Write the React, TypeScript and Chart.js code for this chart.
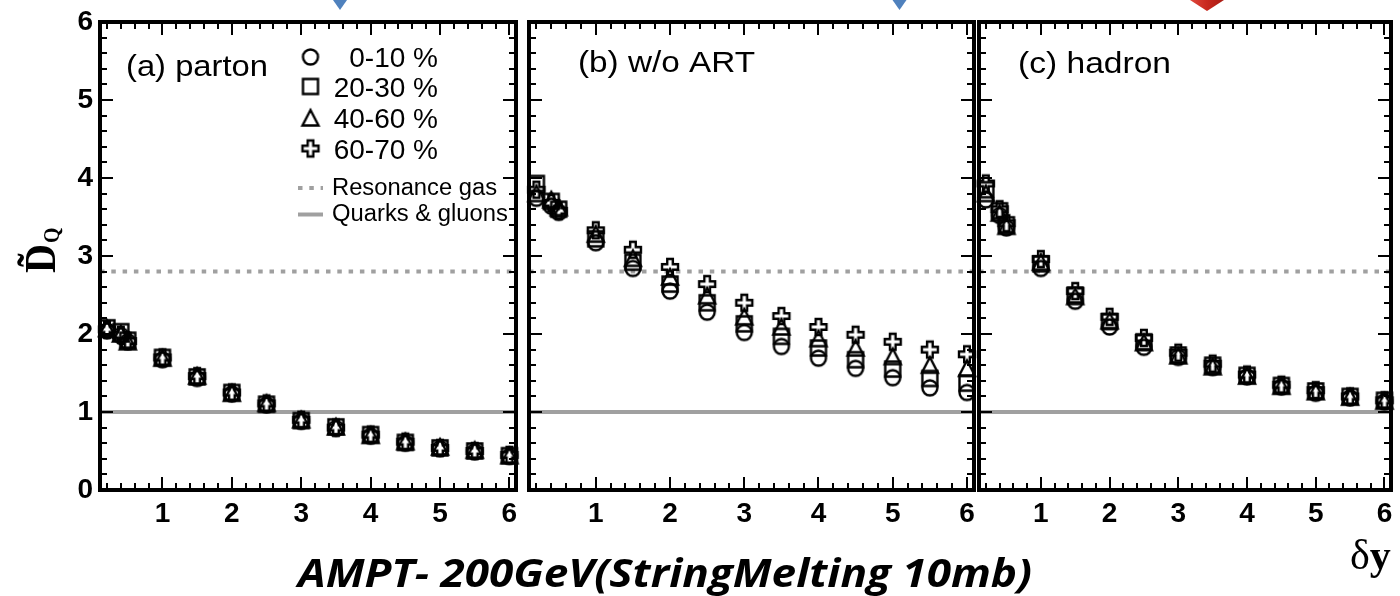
import React, { useEffect, useRef } from "react";
import { Chart, registerables } from "chart.js";

Chart.register(...registerables);

// ---------------- data ----------------
const DELTA_Y = [0.2, 0.4, 0.5, 1, 1.5, 2, 2.5, 3, 3.5, 4, 4.5, 5, 5.5, 6];
const CENTRALITY_LABELS = ["0-10 %", "20-30 %", "40-60 %", "60-70 %"];
const PANEL_LABELS = ["(a) parton", "(b) w/o ART", "(c) hadron"];

// (a) parton
const PARTON_0_10 = [2.04, 1.98, 1.9, 1.67, 1.43, 1.23, 1.09, 0.88, 0.79, 0.69, 0.6, 0.53, 0.49, 0.43];
const PARTON_20_30 = [2.08, 2.03, 1.92, 1.7, 1.45, 1.25, 1.1, 0.89, 0.81, 0.71, 0.61, 0.54, 0.5, 0.44];
const PARTON_40_60 = [2.07, 2.0, 1.9, 1.69, 1.46, 1.24, 1.11, 0.9, 0.81, 0.7, 0.62, 0.55, 0.51, 0.44];
const PARTON_60_70 = [2.06, 1.99, 1.91, 1.7, 1.46, 1.25, 1.11, 0.9, 0.8, 0.71, 0.62, 0.54, 0.5, 0.45];

// (b) w/o ART
const NOART_0_10 = [3.74, 3.64, 3.56, 3.17, 2.84, 2.55, 2.28, 2.02, 1.84, 1.69, 1.56, 1.44, 1.31, 1.25];
const NOART_20_30 = [3.93, 3.7, 3.6, 3.22, 2.92, 2.64, 2.4, 2.13, 1.97, 1.82, 1.67, 1.55, 1.43, 1.37];
const NOART_40_60 = [3.8, 3.72, 3.62, 3.28, 2.97, 2.73, 2.49, 2.22, 2.09, 1.94, 1.82, 1.71, 1.6, 1.56];
const NOART_60_70 = [3.85, 3.68, 3.58, 3.33, 3.08, 2.86, 2.64, 2.4, 2.23, 2.09, 1.99, 1.9, 1.8, 1.74];

// (c) hadron
const HADRON_0_10 = [3.72, 3.52, 3.36, 2.84, 2.42, 2.09, 1.83, 1.7, 1.57, 1.45, 1.32, 1.24, 1.18, 1.13];
const HADRON_20_30 = [3.85, 3.58, 3.4, 2.9, 2.5, 2.16, 1.9, 1.73, 1.6, 1.47, 1.34, 1.27, 1.2, 1.15];
const HADRON_40_60 = [3.8, 3.55, 3.38, 2.92, 2.48, 2.17, 1.89, 1.72, 1.58, 1.46, 1.33, 1.26, 1.19, 1.14];
const HADRON_60_70 = [3.93, 3.6, 3.42, 2.96, 2.55, 2.22, 1.95, 1.76, 1.62, 1.48, 1.35, 1.28, 1.2, 1.15];

const RESONANCE_GAS = 2.8;
const QUARKS_GLUONS = 1;
const LINE_LABELS = ["Resonance gas", "Quarks & gluons"];

const X_TICK_LABELS = [1, 2, 3, 4, 5, 6];
const Y_TICK_LABELS = [0, 1, 2, 3, 4, 5, 6];
const X_RANGE = [0.1, 6.095];
const Y_RANGE = [0, 6];

const TITLE = "AMPT- 200GeV(StringMelting 10mb)";
const Y_TITLE_MAIN = "D\u0303";
const Y_TITLE_SUB = "Q";
const X_TITLE_A = "\u03b4";
const X_TITLE_B = "y";

// ---------------- styling helpers ----------------
const GREY = "#a0a0a0";
const SANS = '"Liberation Sans", Arial, sans-serif';
const SERIF = '"Liberation Serif", "DejaVu Serif", serif';

type MarkerKind = "circle" | "square" | "triangle" | "cross";
const MARKER_KINDS: MarkerKind[] = ["circle", "square", "triangle", "cross"];

function makeMarker(kind: MarkerKind): HTMLCanvasElement {
  const size = 22;
  const c = document.createElement("canvas");
  c.width = size;
  c.height = size;
  const g = c.getContext("2d")!;
  g.strokeStyle = "#000";
  g.lineWidth = 2.4;
  g.lineJoin = "miter";
  const m = size / 2;
  const r = 7.5;
  g.beginPath();
  if (kind === "circle") {
    g.arc(m, m, r, 0, Math.PI * 2);
  } else if (kind === "square") {
    g.rect(m - r, m - r, 2 * r, 2 * r);
  } else if (kind === "triangle") {
    g.moveTo(m, m - r - 0.5);
    g.lineTo(m + r + 0.5, m + r);
    g.lineTo(m - r - 0.5, m + r);
    g.closePath();
  } else {
    const a = r + 0.5;
    const b = 2.8;
    const pts = [
      [m - b, m - a], [m + b, m - a], [m + b, m - b], [m + a, m - b],
      [m + a, m + b], [m + b, m + b], [m + b, m + a], [m - b, m + a],
      [m - b, m + b], [m - a, m + b], [m - a, m - b], [m - b, m - b],
    ];
    g.moveTo(pts[0][0], pts[0][1]);
    for (let i = 1; i < pts.length; i++) g.lineTo(pts[i][0], pts[i][1]);
    g.closePath();
  }
  g.stroke();
  return c;
}

function fitText(
  ctx: CanvasRenderingContext2D,
  text: string,
  x: number,
  y: number,
  font: string,
  width?: number,
  align: CanvasTextAlign = "left"
) {
  ctx.save();
  ctx.font = font;
  const w = ctx.measureText(text).width;
  const sx = width ? width / w : 1;
  ctx.translate(x, y);
  ctx.scale(sx, 1);
  ctx.textAlign = align;
  ctx.textBaseline = "alphabetic";
  ctx.fillStyle = "#000";
  ctx.fillText(text, 0, 0);
  ctx.restore();
}

interface PanelGeom {
  width: number;
  height: number;
  padLeft: number;
  padRight: number;
  showY: boolean;
  showLegend: boolean;
  label: string;
  labelDx: number;
  labelBaseline: number;
  labelWidth: number;
}

function makeDecorPlugin(geom: PanelGeom) {
  return {
    id: "panelDecor",
    afterDatasetsDraw(chart: any) {
      const { ctx, chartArea } = chart;
      const { left, right, top, bottom } = chartArea;
      const xs = chart.scales.x;
      const ys = chart.scales.y;
      ctx.save();
      ctx.strokeStyle = "#000";
      ctx.lineWidth = 2;
      ctx.beginPath();
      for (let k = 1; k <= 30; k++) {
        const v = k / 5;
        if (v <= X_RANGE[0] || v >= X_RANGE[1]) continue;
        const px = Math.round(xs.getPixelForValue(v));
        const len = k % 5 === 0 ? 13 : 7;
        ctx.moveTo(px, bottom);
        ctx.lineTo(px, bottom - len);
        ctx.moveTo(px, top);
        ctx.lineTo(px, top + len);
      }
      for (let k = 1; k < 30; k++) {
        const v = k / 5;
        const py = Math.round(ys.getPixelForValue(v));
        const len = k % 5 === 0 ? 13 : 7;
        ctx.moveTo(left, py);
        ctx.lineTo(left + len, py);
        ctx.moveTo(right, py);
        ctx.lineTo(right - len, py);
      }
      ctx.stroke();
      ctx.lineWidth = 4;
      ctx.strokeRect(left, top, right - left, bottom - top);
      ctx.restore();
    },
    afterDraw(chart: any) {
      const { ctx, chartArea } = chart;
      fitText(
        ctx,
        geom.label,
        chartArea.left + geom.labelDx,
        geom.labelBaseline,
        `30px ${SANS}`,
        geom.labelWidth
      );
      if (!geom.showLegend) return;
      const ds = chart.data.datasets;
      const rows = [57, 86.5, 118, 148.5];
      for (let i = 0; i < 4; i++) {
        const img = ds[i].pointStyle as HTMLCanvasElement;
        ctx.drawImage(img, 310.5 - img.width / 2, rows[i] - img.height / 2);
        fitText(ctx, ds[i].label, 438, rows[i] + 10, `28px ${SANS}`, undefined, "right");
      }
      const lineRows = [
        { y: 188, base: 195, w: 165 },
        { y: 214.5, base: 221, w: 176 },
      ];
      for (let j = 0; j < 2; j++) {
        const d = ds[4 + j];
        ctx.save();
        ctx.strokeStyle = d.borderColor;
        ctx.lineWidth = d.borderWidth;
        ctx.setLineDash(d.borderDash || []);
        ctx.beginPath();
        ctx.moveTo(298, lineRows[j].y);
        ctx.lineTo(323, lineRows[j].y);
        ctx.stroke();
        ctx.restore();
        fitText(ctx, d.label, 332, lineRows[j].base, `23.5px ${SANS}`, lineRows[j].w);
      }
    },
  };
}

function buildPanel(canvas: HTMLCanvasElement, series: number[][], geom: PanelGeom, sprites: HTMLCanvasElement[]) {
  const markerSets = series.map((vals, i) => ({
    type: "scatter",
    label: CENTRALITY_LABELS[i],
    data: DELTA_Y.map((x, j) => ({ x, y: vals[j] })),
    pointStyle: sprites[i],
    pointRadius: 8,
    pointHoverRadius: 8,
    borderColor: "#000",
    backgroundColor: "rgba(0,0,0,0)",
    showLine: false,
    clip: false,
    order: 1,
  }));
  const lineSets = [
    { value: RESONANCE_GAS, dash: [4.5, 6.8], label: LINE_LABELS[0] },
    { value: QUARKS_GLUONS, dash: [], label: LINE_LABELS[1] },
  ].map((l) => ({
    type: "scatter",
    label: l.label,
    data: [
      { x: X_RANGE[0], y: l.value },
      { x: X_RANGE[1], y: l.value },
    ],
    showLine: true,
    borderColor: GREY,
    backgroundColor: GREY,
    borderWidth: 4,
    borderDash: l.dash,
    pointRadius: 0,
    pointHoverRadius: 0,
    fill: false,
    tension: 0,
    clip: false,
    order: 5,
  }));

  const xAxisHeight = geom.height - 490;

  return new Chart(canvas, {
    type: "scatter",
    data: { datasets: [...markerSets, ...lineSets] as any },
    options: {
      animation: false,
      responsive: false,
      maintainAspectRatio: false,
      devicePixelRatio: 1,
      events: [],
      layout: { padding: { left: geom.padLeft, right: geom.padRight, top: 22, bottom: 0 } },
      plugins: { legend: { display: false }, tooltip: { enabled: false }, title: { display: false } },
      scales: {
        x: {
          type: "linear",
          min: X_RANGE[0],
          max: X_RANGE[1],
          afterBuildTicks: (axis: any) => {
            axis.ticks = X_TICK_LABELS.map((v) => ({ value: v }));
          },
          afterFit: (axis: any) => {
            axis.height = xAxisHeight;
          },
          ticks: {
            color: "#000",
            font: { family: SANS, size: 28, weight: "bold", lineHeight: 1.7 },
            padding: 0,
            autoSkip: false,
            maxRotation: 0,
            minRotation: 0,
            callback: (v: any) => String(v),
          },
          grid: { display: false, drawTicks: false, drawOnChartArea: false },
          border: { display: false },
        },
        y: {
          type: "linear",
          display: geom.showY,
          min: Y_RANGE[0],
          max: Y_RANGE[1],
          afterBuildTicks: (axis: any) => {
            axis.ticks = Y_TICK_LABELS.map((v) => ({ value: v }));
          },
          afterFit: (axis: any) => {
            axis.width = geom.showY ? 100 : 0;
          },
          ticks: {
            color: "#000",
            font: { family: SANS, size: 28, weight: "bold", lineHeight: 1 },
            padding: 7,
            callback: (v: any) => String(v),
          },
          grid: { display: false, drawTicks: false, drawOnChartArea: false },
          border: { display: false },
        },
      },
    } as any,
    plugins: [makeDecorPlugin(geom)],
  });
}

function drawOverlay(canvas: HTMLCanvasElement) {
  const ctx = canvas.getContext("2d")!;
  ctx.clearRect(0, 0, canvas.width, canvas.height);

  // y-axis title, rotated
  ctx.save();
  ctx.translate(55, 273);
  ctx.rotate(-Math.PI / 2);
  ctx.scale(1, 1.12);
  ctx.fillStyle = "#000";
  ctx.textBaseline = "alphabetic";
  ctx.font = `bold 40px ${SERIF}`;
  ctx.fillText(Y_TITLE_MAIN, 0, 0);
  const dW = ctx.measureText(Y_TITLE_MAIN).width;
  ctx.font = `bold 20px ${SERIF}`;
  ctx.fillText(Y_TITLE_SUB, dW + 1, 4);
  ctx.restore();

  // x-axis title
  ctx.save();
  ctx.fillStyle = "#000";
  ctx.font = `42px ${SERIF}`;
  ctx.fillText(X_TITLE_A, 1350, 569);
  const w1 = ctx.measureText(X_TITLE_A).width;
  ctx.font = `bold 42px ${SERIF}`;
  ctx.fillText(X_TITLE_B, 1350 + w1, 569);
  ctx.restore();

  // bottom title
  fitText(ctx, TITLE, 298, 587, `italic bold 40px "Open Sans", ${SANS}`, 734);

  // slide decorations: blue arrow heads and red marker cut by the top edge
  ctx.save();
  ctx.fillStyle = "#4f81bd";
  for (const cx of [340, 899.5]) {
    ctx.beginPath();
    ctx.moveTo(cx - 7, 0);
    ctx.lineTo(cx + 7, 0);
    ctx.lineTo(cx, 10);
    ctx.closePath();
    ctx.fill();
  }
  const grad = ctx.createLinearGradient(1190, 0, 1224, 0);
  grad.addColorStop(0, "#e0483c");
  grad.addColorStop(0.5, "#c8281e");
  grad.addColorStop(1, "#a81c14");
  ctx.fillStyle = grad;
  ctx.beginPath();
  ctx.moveTo(1190, 0);
  ctx.lineTo(1224, 0);
  ctx.lineTo(1207, 11);
  ctx.closePath();
  ctx.fill();
  ctx.restore();
}

export default function App() {
  const aRef = useRef<HTMLCanvasElement>(null);
  const bRef = useRef<HTMLCanvasElement>(null);
  const cRef = useRef<HTMLCanvasElement>(null);
  const oRef = useRef<HTMLCanvasElement>(null);

  useEffect(() => {
    const sprites = MARKER_KINDS.map(makeMarker);
    const charts: Chart[] = [];
    charts.push(
      buildPanel(
        aRef.current!,
        [PARTON_0_10, PARTON_20_30, PARTON_40_60, PARTON_60_70],
        {
          width: 528, height: 545, padLeft: 0, padRight: 12, showY: true, showLegend: true,
          label: PANEL_LABELS[0], labelDx: 26, labelBaseline: 76, labelWidth: 142,
        },
        sprites
      )
    );
    charts.push(
      buildPanel(
        bRef.current!,
        [NOART_0_10, NOART_20_30, NOART_40_60, NOART_60_70],
        {
          width: 470, height: 545, padLeft: 4, padRight: 16, showY: false, showLegend: false,
          label: PANEL_LABELS[1], labelDx: 49, labelBaseline: 72, labelWidth: 177,
        },
        sprites
      )
    );
    charts.push(
      buildPanel(
        cRef.current!,
        [HADRON_0_10, HADRON_20_30, HADRON_40_60, HADRON_60_70],
        {
          width: 430, height: 545, padLeft: 5, padRight: 9, showY: false, showLegend: false,
          label: PANEL_LABELS[2], labelDx: 39, labelBaseline: 73, labelWidth: 153,
        },
        sprites
      )
    );
    drawOverlay(oRef.current!);
    return () => {
      charts.forEach((c) => c.destroy());
    };
  }, []);

  const abs = (left: number): React.CSSProperties => ({ position: "absolute", left, top: 0 });

  return (
    <div
      style={{
        position: "fixed",
        left: 0,
        top: 0,
        width: 1400,
        height: 596,
        background: "#fff",
        overflow: "hidden",
      }}
    >
      <canvas ref={aRef} width={528} height={545} style={abs(0)} />
      <canvas ref={bRef} width={470} height={545} style={abs(520)} />
      <canvas ref={cRef} width={430} height={545} style={abs(970)} />
      <canvas ref={oRef} width={1400} height={596} style={{ ...abs(0), pointerEvents: "none" }} />
    </div>
  );
}
